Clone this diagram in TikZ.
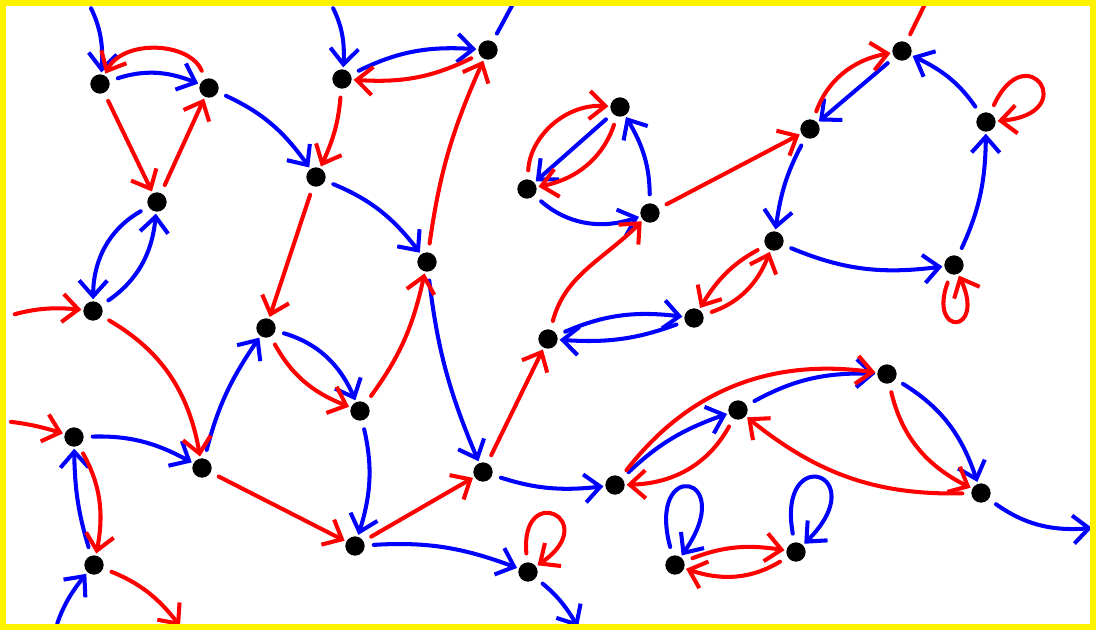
\documentclass[tikz,border=0pt]{standalone}
\usetikzlibrary{arrows.meta}

\begin{document}
\begin{tikzpicture}[x=0.02cm, y=-0.02cm, >={Straight Barb[length=9pt, width=16pt]}, line width=2.3pt, line cap=round,
  vertex/.style={circle, fill=black, inner sep=0pt, minimum size=11pt},
  every edge/.append style={shorten <=4pt}]

\useasboundingbox (0, 0) rectangle (1096, 630);

\node (v1) at (100, 84)  [vertex] {};
\node (v2) at (209, 88)  [vertex] {};
\node (v3) at (157, 202) [vertex] {};
\node (v4) at (93, 311)  [vertex] {};
\node (v5) at (342, 79)  [vertex] {};
\node (v6) at (488, 50)  [vertex] {};
\node (v7) at (316, 177) [vertex] {};
\node (v8) at (427, 262) [vertex] {};
\node (v9) at (266, 328) [vertex] {};
\node (v10) at (360, 411) [vertex] {};
\node (v11) at (74, 437)  [vertex] {};
\node (v12) at (202, 468) [vertex] {};
\node (v13) at (94, 565)  [vertex] {};
\node (v14) at (355, 546) [vertex] {};
\node (v15) at (483, 472) [vertex] {};
\node (v16) at (528, 572) [vertex] {};
\node (v17) at (615, 485) [vertex] {};
\node (v18) at (548, 339) [vertex] {};
\node (v19) at (650, 213) [vertex] {};
\node (v20) at (620, 107) [vertex] {};
\node (v21) at (527, 189) [vertex] {};
\node (v22) at (694, 318) [vertex] {};
\node (v23) at (774, 241) [vertex] {};
\node (v24) at (810, 129) [vertex] {};
\node (v25) at (902, 51)  [vertex] {};
\node (v26) at (986, 122) [vertex] {};
\node (v27) at (954, 265) [vertex] {};
\node (v28) at (738, 410) [vertex] {};
\node (v29) at (887, 374) [vertex] {};
\node (v30) at (981, 493) [vertex] {};
\node (v31) at (675, 565) [vertex] {};
\node (v32) at (796, 552) [vertex] {};

\coordinate (top1) at (88, 2);
\coordinate (top2) at (330, 2);
\coordinate (top3) at (514, 2);
\coordinate (top4) at (926, 2);
\coordinate (left1) at (8, 316);
\coordinate (left2) at (4, 421);
\coordinate (bot1) at (55, 630);
\coordinate (bot2) at (180, 626);
\coordinate (bot3) at (578, 627);
\coordinate (right1) at (1092, 528);

\path[->, blue] (top1) edge [bend left=15] (v1);
\path[->, blue] (v1) edge [bend left=20] (v2);
\path[->, blue] (v2) edge [bend left=15] (v7);
\path[->, blue] (v3) edge [bend right=30] (v4);
\path[->, blue] (v4) edge [bend right=25] (v3);
\path[->, blue] (top2) edge [bend left=15] (v5);
\path[->, blue] (v5) edge [bend left=15] (v6);
\path[-, blue] (v6) edge (top3);
\path[->, blue] (v7) edge [bend left=15] (v8);
\path[->, blue] (v9) edge [bend left=25] (v10);
\path[->, blue] (v8) edge [bend right=8] (v15);
\path[->, blue] (v12) edge [bend left=10] (v9);
\path[->, blue] (v10) edge [bend left=15] (v14);
\path[->, blue] (v14) edge [bend left=12] (v16);
\path[->, blue] (v16) edge [bend left=10] (bot3);
\path[->, blue] (v15) edge [bend right=12] (v17);
\path[->, blue] (v11) edge [bend left=15] (v12);
\path[->, blue] (v13) edge [bend left=8] (v11);
\path[->, blue] (bot1) edge [bend left=10] (v13);

\path[->, blue] (v18) edge [bend left=15] (v22);
\path[->, blue] (v22) edge [bend left=12] (v18);
\path[->, blue] (v20) edge (v21);
\path[->, blue] (v21) edge [bend right=30] (v19);
\path[->, blue] (v19) edge [bend right=15] (v20);
\path[->, blue] (v25) edge (v24);
\path[->, blue] (v26) edge [bend right=15] (v25);
\path[->, blue] (v27) edge [bend right=12] (v26);
\path[->, blue] (v24) edge [bend right=10] (v23);
\path[->, blue] (v23) edge [bend right=15] (v27);
\path[->, blue] (v17) edge [bend left=12] (v28);
\path[->, blue] (v28) edge [bend left=15] (v29);
\path[->, blue] (v29) edge [bend left=20] (v30);
\path[->, blue] (v30) edge [bend right=20] (right1);
\path[->, blue] (v31) edge [out=105, in=55, min distance=20mm] (v31);
\path[->, blue] (v32) edge [out=100, in=45, min distance=20mm] (v32);

\path[->, red] (v2) edge [bend right=65] (v1);
\path[->, red] (v1) edge (v3);
\path[->, red] (v3) edge (v2);
\path[->, red] (left1) edge [bend left=10] (v4);
\path[->, red] (v4) edge [bend left=25] (v12);
\path[->, red] (v6) edge [bend left=15] (v5);
\path[->, red] (v5) edge [bend left=10] (v7);
\path[->, red] (v8) edge [bend left=8] (v6);
\path[->, red] (v7) edge (v9);
\path[->, red] (v9) edge [bend right=20] (v10);
\path[->, red] (v10) edge [bend right=12] (v8);
\path[->, red] (v12) edge (v14);
\path[->, red] (v14) edge (v15);
\path[->, red] (v16) edge [out=95, in=35, min distance=16mm] (v16);
\path[->, red] (v15) edge (v18);
\path[->, red] (left2) edge [bend left=5] (v11);
\path[->, red] (v11) edge [bend left=20] (v13);
\path[->, red] (v13) edge [bend left=15] (bot2);

\path[->, red] (v18) edge [out=75, in=225] (v19);
\path[->, red] (v21) edge [bend left=45] (v20);
\path[->, red] (v20) edge [bend left=30] (v21);
\path[->, red] (v19) edge (v24);
\path[->, red] (v24) edge [bend left=30] (v25);
\path[-, red] (v25) edge (top4);
\path[->, red] (v26) edge [out=65, in=5, min distance=17mm] (v26);
\path[->, red] (v27) edge [out=250, in=295, min distance=13mm] (v27);
\path[->, red] (v23) edge [bend right=15] (v22);
\path[->, red] (v22) edge [bend right=25] (v23);
\path[->, red] (v28) edge [bend left=30] (v17);
\path[->, red] (v17) edge [bend left=30] (v29);
\path[->, red] (v30) edge [bend left=20] (v28);
\path[->, red] (v29) edge [bend right=25] (v30);
\path[->, red] (v31) edge [bend left=15] (v32);
\path[->, red] (v32) edge [bend left=25] (v31);

\draw[yellow, line width=3.4pt] (3, 3) rectangle (1093, 627);

\end{tikzpicture}
\end{document}
